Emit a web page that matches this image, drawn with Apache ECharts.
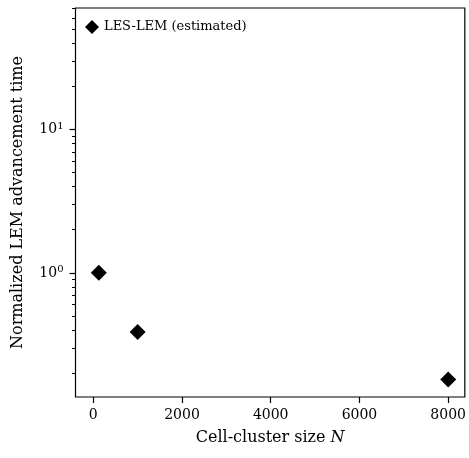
<!DOCTYPE html>
<html>
<head>
<meta charset="utf-8">
<script src="https://cdn.jsdelivr.net/npm/echarts@6/dist/echarts.min.js"></script>
<style>
  html, body { margin: 0; padding: 0; background: #fff; }
  #chart { width: 469px; height: 458px; }
</style>
</head>
<body>
<div id="chart"></div>
<script>
  // data
  var clusterSize = [125, 1000, 8000];
  var lemTime = [1.0, 0.386, 0.18];
  var seriesName = 'LES-LEM (estimated)';
  var xTicks = [0, 2000, 4000, 6000, 8000];
  var yMajor = [1, 10];
  var yMinor = [0.2, 0.3, 0.4, 0.5, 0.6, 0.7, 0.8, 0.9, 2, 3, 4, 5, 6, 7, 8, 9, 20, 30, 40, 50, 60, 70];

  var font = 'DejaVu Serif';

  // log axis drawn as value axis in log10 space
  var lg = function (v) { return Math.log10(v); };
  var yMin = lg(0.136), yMax = lg(70.6);

  var chart = echarts.init(document.getElementById('chart'));
  chart.setOption({
    animation: false,
    grid: {
      left: 75.5, right: 3.5, top: 8, bottom: 61,
      show: true, borderColor: '#000', borderWidth: 1.2
    },
    legend: {
      left: 80, top: 15,
      itemWidth: 14, itemHeight: 14, itemGap: 8,
      textStyle: { fontFamily: font, fontSize: 13, color: '#000' },
      data: [{ name: seriesName, icon: 'diamond', itemStyle: { color: '#000', opacity: 1 } }]
    },
    xAxis: {
      type: 'value', min: -400, max: 8375,
      name: 'Cell-cluster size {i|N}',
      nameLocation: 'middle', nameGap: 33,
      nameTextStyle: {
        fontFamily: font, fontSize: 16, color: '#000',
        rich: { i: { fontFamily: font, fontStyle: 'italic', fontSize: 16, color: '#000' } }
      },
      splitLine: { show: false },
      axisLine: { show: false, onZero: false },
      axisTick: { show: true, length: 6, customValues: xTicks, lineStyle: { color: '#000', width: 1.2 } },
      axisLabel: {
        customValues: xTicks, margin: 11, fontFamily: font, fontSize: 14, color: '#000',
        formatter: function (v) { return String(v); }
      }
    },
    yAxis: [{
      type: 'value', min: yMin, max: yMax,
      name: 'Normalized LEM advancement time',
      nameLocation: 'middle', nameGap: 50,
      nameTextStyle: { fontFamily: font, fontSize: 16, color: '#000' },
      splitLine: { show: false },
      axisLine: { show: false, onZero: false },
      axisTick: { show: true, length: 6, customValues: yMajor.map(lg), lineStyle: { color: '#000', width: 1.2 } },
      axisLabel: {
        customValues: yMajor.map(lg), margin: 12, fontFamily: font, fontSize: 14, color: '#000',
        formatter: function (v) { return '10{s|' + Math.round(v) + '}'; },
        rich: { s: { fontFamily: font, fontSize: 10, color: '#000', verticalAlign: 'bottom', padding: [0, 0, 7, 0] } }
      }
    }, {
      type: 'value', min: yMin, max: yMax, position: 'left', offset: 0,
      splitLine: { show: false },
      axisLine: { show: false, onZero: false },
      axisLabel: { show: false },
      axisTick: { show: true, length: 3.5, customValues: yMinor.map(lg), lineStyle: { color: '#000', width: 1 } }
    }],
    series: [{
      name: seriesName,
      type: 'scatter',
      symbol: 'diamond',
      symbolSize: 16,
      itemStyle: { color: '#000', opacity: 1 },
      data: clusterSize.map(function (x, i) { return [x, lg(lemTime[i])]; })
    }]
  });
</script>
</body>
</html>
